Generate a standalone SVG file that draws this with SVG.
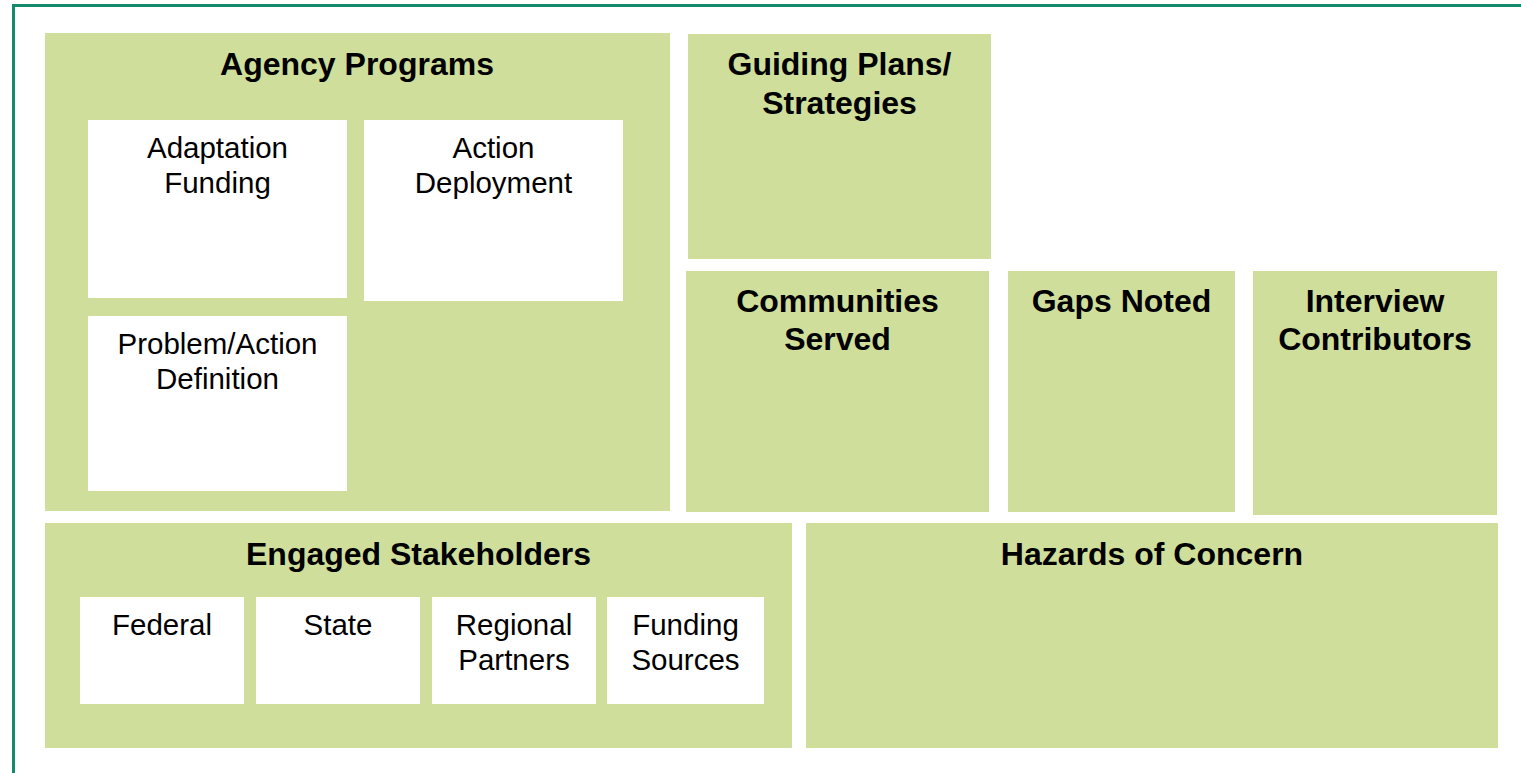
<svg xmlns="http://www.w3.org/2000/svg" width="1521" height="773" viewBox="0 0 1521 773">
<style>
.g{fill:#cfdf9b}
.w{fill:#ffffff}
.t{font-family:"Liberation Sans",Arial,sans-serif;font-weight:bold;font-size:32px;fill:#000;text-anchor:middle}
.s{font-family:"Liberation Sans",Arial,sans-serif;font-size:29.5px;fill:#000;text-anchor:middle}
</style>
<rect x="0" y="0" width="1521" height="773" fill="#ffffff"/>
<rect x="13.5" y="5.5" width="1530" height="790" fill="none" stroke="#138b6b" stroke-width="3"/>
<g id="agency-programs">
<rect class="g" x="45" y="33" width="625" height="478"/>
<text class="t" x="357" y="75">Agency Programs</text>
</g>
<g id="adaptation-funding">
<rect class="w" x="88" y="120" width="259" height="178"/>
<text class="s" x="217.5" y="158">Adaptation</text>
<text class="s" x="217.5" y="193">Funding</text>
</g>
<g id="action-deployment">
<rect class="w" x="364" y="120" width="259" height="181"/>
<text class="s" x="493.5" y="158">Action</text>
<text class="s" x="493.5" y="193">Deployment</text>
</g>
<g id="problem-action-definition">
<rect class="w" x="88" y="316" width="259" height="175"/>
<text class="s" x="217.5" y="354">Problem/Action</text>
<text class="s" x="217.5" y="389">Definition</text>
</g>
<g id="guiding-plans">
<rect class="g" x="688" y="34" width="303" height="225"/>
<text class="t" x="839.5" y="75">Guiding Plans/</text>
<text class="t" x="839.5" y="114">Strategies</text>
</g>
<g id="communities-served">
<rect class="g" x="686" y="271" width="303" height="241"/>
<text class="t" x="837.5" y="312">Communities</text>
<text class="t" x="837.5" y="350">Served</text>
</g>
<g id="gaps-noted">
<rect class="g" x="1008" y="271" width="227" height="241"/>
<text class="t" x="1121.5" y="312">Gaps Noted</text>
</g>
<g id="interview-contributors">
<rect class="g" x="1253" y="271" width="244" height="244"/>
<text class="t" x="1375" y="312">Interview</text>
<text class="t" x="1375" y="350">Contributors</text>
</g>
<g id="engaged-stakeholders">
<rect class="g" x="45" y="523" width="747" height="225"/>
<text class="t" x="418.5" y="565">Engaged Stakeholders</text>
</g>
<g id="federal">
<rect class="w" x="80" y="597" width="164" height="107"/>
<text class="s" x="162" y="635">Federal</text>
</g>
<g id="state">
<rect class="w" x="256" y="597" width="164" height="107"/>
<text class="s" x="338" y="635">State</text>
</g>
<g id="regional-partners">
<rect class="w" x="432" y="597" width="164" height="107"/>
<text class="s" x="514" y="635">Regional</text>
<text class="s" x="514" y="670">Partners</text>
</g>
<g id="funding-sources">
<rect class="w" x="607" y="597" width="157" height="107"/>
<text class="s" x="685.5" y="635">Funding</text>
<text class="s" x="685.5" y="670">Sources</text>
</g>
<g id="hazards-of-concern">
<rect class="g" x="806" y="523" width="692" height="225"/>
<text class="t" x="1152" y="565">Hazards of Concern</text>
</g>
<g id="connectors"></g>
</svg>
